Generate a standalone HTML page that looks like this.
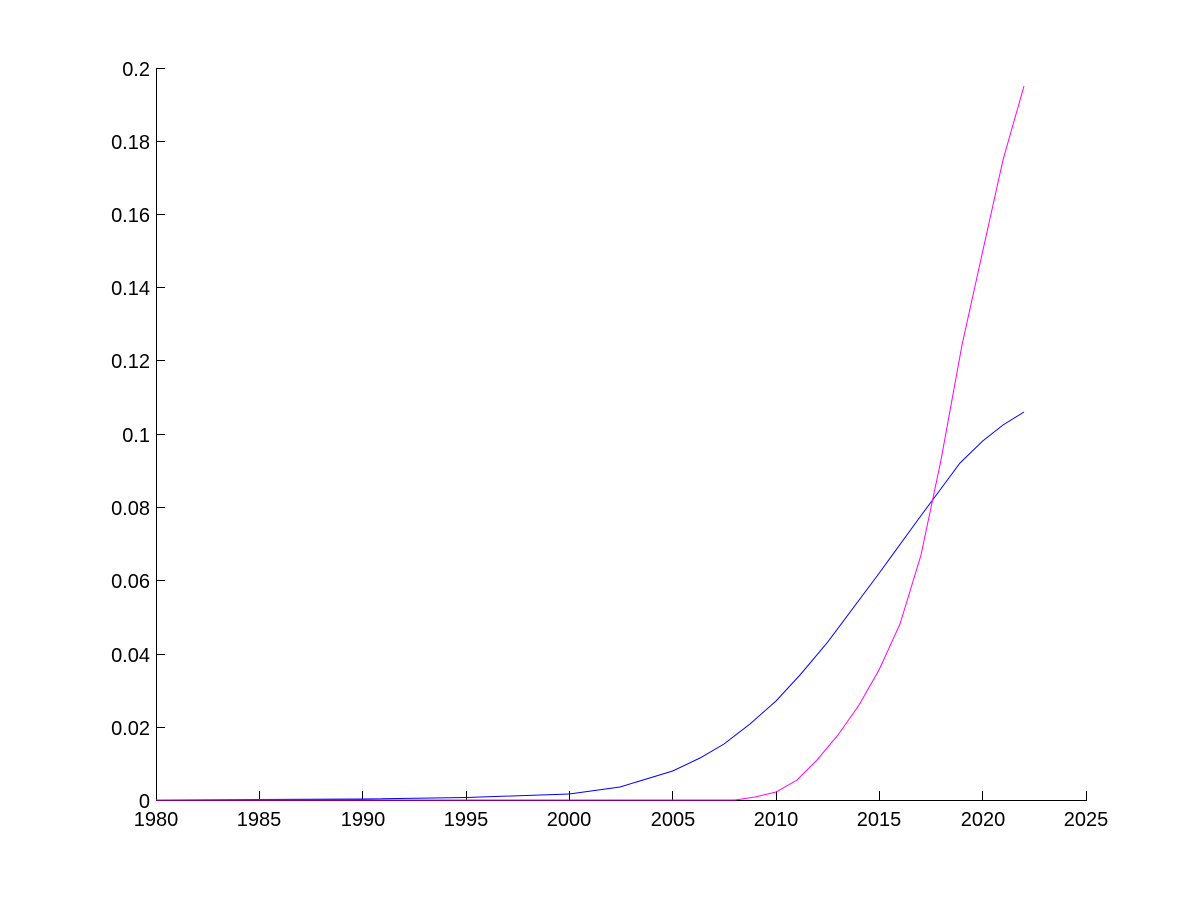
<!DOCTYPE html>
<html><head><style>body{margin:0;background:#fff}svg{display:block}text{font-family:"Liberation Sans",sans-serif;font-size:20px;fill:#000}</style></head>
<body>
<svg width="1200" height="900" viewBox="0 0 1200 900">
<g stroke="#000" stroke-width="1" fill="none">
<line x1="156.5" y1="68" x2="156.5" y2="801"/>
<line x1="156" y1="800.5" x2="1087" y2="800.5"/>
<path d="M259.5 800v-9M362.5 800v-9M466.5 800v-9M569.5 800v-9M672.5 800v-9M776.5 800v-9M879.5 800v-9M982.5 800v-9M1086.5 800v-9"/>
<path d="M156 727.5h9M156 654.5h9M156 580.5h9M156 507.5h9M156 434.5h9M156 360.5h9M156 287.5h9M156 214.5h9M156 141.5h9M156 68.5h9"/>
</g>
<g text-anchor="end">
<text x="150" y="808">0</text><text x="150" y="735">0.02</text><text x="150" y="662">0.04</text><text x="150" y="588">0.06</text><text x="150" y="515">0.08</text><text x="150" y="442">0.1</text><text x="150" y="368">0.12</text><text x="150" y="295">0.14</text><text x="150" y="222">0.16</text><text x="150" y="149">0.18</text><text x="150" y="76">0.2</text>
</g>
<g text-anchor="middle">
<text x="156" y="826">1980</text><text x="259" y="826">1985</text><text x="363" y="826">1990</text><text x="466" y="826">1995</text><text x="569" y="826">2000</text><text x="673" y="826">2005</text><text x="776" y="826">2010</text><text x="879" y="826">2015</text><text x="983" y="826">2020</text><text x="1086" y="826">2025</text>
</g>
<path fill="none" stroke="#0000ff" stroke-width="1" d="M156,800 L362.7,799 L466,797.5 L569.3,794 L620,787 L672.7,771 L700,758 L724,744 L750,724 L776,701 L800,675 L827,643 L879.3,573 L920.7,516 L940,490 L960,463 L982.7,441 L1003,425 L1024,412"/>
<path fill="none" stroke="#ff00ff" stroke-width="1" d="M156,800 L735,800 L755,797 L776,792 L797,780 L817,760 L838,735 L859,705 L879,670 L900,624 L921,555 L941,460 L962,345 L983,250 L1003,160 L1024,86"/>
</svg>
</body></html>
